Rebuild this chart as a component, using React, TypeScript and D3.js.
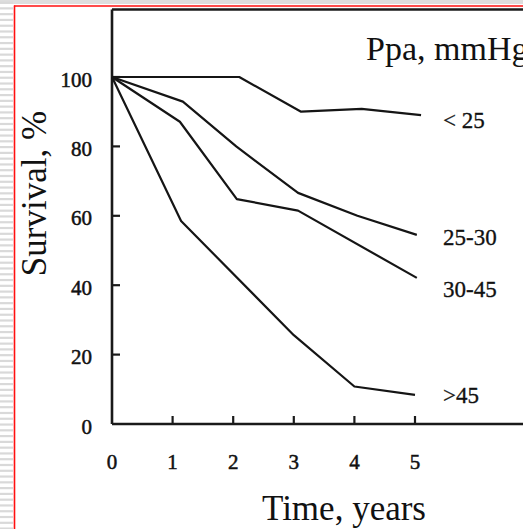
import React from "react";
import * as d3 from "d3";

const xTicks = [0, 1, 2, 3, 4, 5];
const yTicks = [0, 20, 40, 60, 80, 100];

const seriesNames = ["< 25", "25-30", "30-45", ">45"];
const timesLt25 = [0, 2.1, 3.12, 4.12, 5.1];
const valuesLt25 = [100, 100, 90, 90.8, 89];
const times2530 = [0, 1.17, 2.05, 3.07, 4.05, 5.03];
const values2530 = [100, 92.9, 80, 66.6, 60, 54.5];
const times3045 = [0, 1.12, 2.06, 3.07, 5.03];
const values3045 = [100, 87.1, 64.8, 61.5, 42.1];
const timesGt45 = [0, 1.14, 3.0, 4.0, 5.0];
const valuesGt45 = [100, 58.5, 25.6, 10.8, 8.4];

const W = 523;
const H = 529;
const FONT = "'Liberation Serif', 'Times New Roman', serif";

export default function App() {
  const x = d3.scaleLinear().domain([0, 5]).range([112, 415]);
  const y = d3.scaleLinear().domain([0, 100]).range([424, 77]);

  const series = [
    { name: seriesNames[0], t: timesLt25, v: valuesLt25, labelY: 128 },
    { name: seriesNames[1], t: times2530, v: values2530, labelY: 245 },
    { name: seriesNames[2], t: times3045, v: values3045, labelY: 297 },
    { name: seriesNames[3], t: timesGt45, v: valuesGt45, labelY: 403 },
  ];

  const line = d3
    .line<[number, number]>()
    .x((d) => x(d[0]))
    .y((d) => y(d[1]));

  const stripes = d3.range(1.5, H, 5.78);
  const top = 9.5;
  const x0 = x(0);
  const yBase = y(0);

  return (
    <svg
      width={W}
      height={H}
      style={{ position: "absolute", left: 0, top: 0, background: "#fff" }}
      fontFamily={FONT}
    >
      <rect x={0} y={0} width={W} height={H} fill="#fff" />
      {/* decorative frame */}
      <rect x={0} y={0} width={W} height={4} fill="#dedede" />
      {stripes.map((s, i) => (
        <rect key={i} x={0} y={s} width={13} height={2.2} fill="#d9d9d9" />
      ))}
      <line x1={14.5} x2={14.5} y1={5.5} y2={H} stroke="#ff1010" strokeWidth={1.6} />
      <line x1={14} x2={W} y1={6} y2={6} stroke="#ff1010" strokeWidth={1.6} />

      {/* axes frame */}
      <line x1={x0} x2={W} y1={top} y2={top} stroke="#1a1a1a" strokeWidth={2.4} />
      <line x1={x0} x2={x0} y1={top} y2={yBase} stroke="#1a1a1a" strokeWidth={2.6} />
      <line x1={x0} x2={W} y1={yBase} y2={yBase} stroke="#1a1a1a" strokeWidth={2.4} />

      {yTicks.map((t) => (
        <g key={"y" + t}>
          {t > 0 && (
            <line x1={x0} x2={x0 + 8} y1={y(t)} y2={y(t)} stroke="#1a1a1a" strokeWidth={2.2} />
          )}
          <text x={92} y={y(t) + 9.5} textAnchor="end" fontSize={21} fill="#111" stroke="#111" strokeWidth={0.5}>
            {t}
          </text>
        </g>
      ))}
      {xTicks.map((t) => (
        <g key={"x" + t}>
          {t > 0 && (
            <line x1={x(t)} x2={x(t)} y1={yBase} y2={yBase - 8} stroke="#1a1a1a" strokeWidth={2.2} />
          )}
          <text x={x(t)} y={469} textAnchor="middle" fontSize={21} fill="#111" stroke="#111" strokeWidth={0.5}>
            {t}
          </text>
        </g>
      ))}

      {series.map((s) => (
        <g key={s.name}>
          <path
            d={line(s.t.map((t, i) => [t, s.v[i]] as [number, number])) || ""}
            fill="none"
            stroke="#151515"
            strokeWidth={2.2}
            strokeLinejoin="round"
          />
          <text x={443} y={s.labelY} fontSize={23} fill="#111" stroke="#111" strokeWidth={0.3}>
            {s.name}
          </text>
        </g>
      ))}

      <text x={366} y={60} fontSize={34} fill="#111">
        Ppa, mmHg
      </text>
      <text
        transform="translate(46,193.5) rotate(-90)"
        textAnchor="middle"
        fontSize={35}
        fill="#111"
      >
        Survival, %
      </text>
      <text x={344} y={520} textAnchor="middle" fontSize={35} fill="#111">
        Time, years
      </text>
    </svg>
  );
}
